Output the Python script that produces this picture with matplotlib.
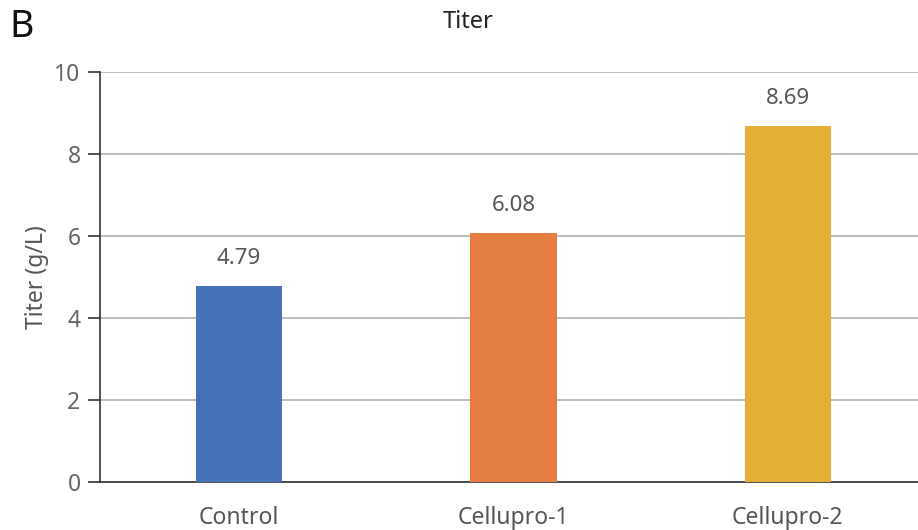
import matplotlib
matplotlib.use("Agg")
import matplotlib.pyplot as plt

plt.rcParams['font.family'] = ['Noto Sans', 'DejaVu Sans']

categories = ['Control', 'Cellupro-1', 'Cellupro-2']
titer = [4.79, 6.08, 8.69]
bar_colors = ['#4672B8', '#E57D40', '#E5AE37']
yticks = [0, 2, 4, 6, 8, 10]

txt = '#555555'
fig = plt.figure(figsize=(9.18, 5.3), dpi=100)
ax = fig.add_axes([0.109, 0.0906, 0.891, 0.7736])

x = range(len(categories))
bars = ax.bar(x, titer, width=0.315, color=bar_colors, zorder=3)
for b, v in zip(bars, titer):
    ax.text(b.get_x() + b.get_width() / 2, v + 0.4, f'{v:.2f}',
            ha='center', va='bottom', fontsize=16, color=txt)

ax.set_xlim(-0.506, 2.474)
ax.set_ylim(0, 10)
ax.set_yticks(yticks)
ax.set_xticks(list(x))
ax.set_xticklabels(categories)
ax.yaxis.grid(True, color='#b0b0b0', linewidth=1.2, zorder=0)
ax.tick_params(axis='x', length=0, pad=17, labelsize=16.5, labelcolor=txt)
ax.tick_params(axis='y', length=9, width=1.2, color='#333333', pad=5,
               labelsize=16.5, labelcolor='#666666')
for s in ['top', 'right']:
    ax.spines[s].set_visible(False)
for s in ['left', 'bottom']:
    ax.spines[s].set_color('#333333')
    ax.spines[s].set_linewidth(1.2)
ax.set_ylabel('Titer (g/L)', fontsize=16.5, color=txt, labelpad=4)

fig.text(468 / 918, 1 - 22 / 530, 'Titer', ha='center', va='center',
         fontsize=17, color='#222222')
fig.text(9 / 918, 1 - 27 / 530, 'B', ha='left', va='center',
         fontsize=27, color='#111111')

fig.savefig('out.png', dpi=100)
